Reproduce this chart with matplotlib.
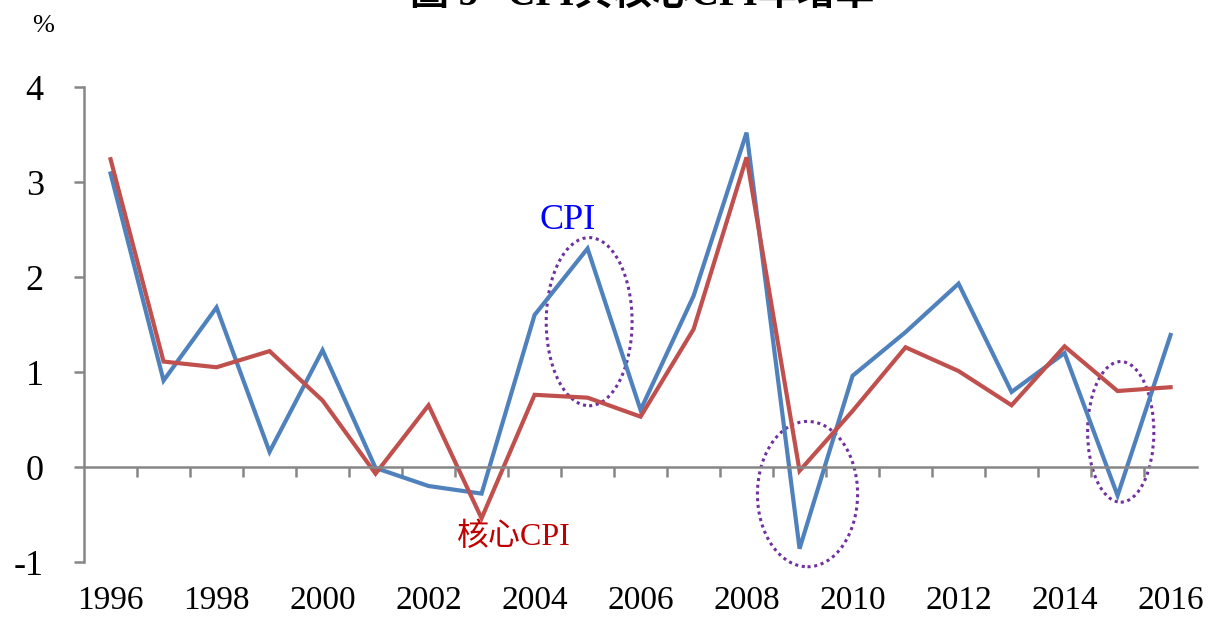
import numpy as np
import matplotlib
matplotlib.use('Agg')
import matplotlib.pyplot as plt
from matplotlib.patches import Ellipse

plt.rcParams['font.family'] = ['Liberation Serif', 'Noto Sans CJK TC']

years = list(range(1996, 2017))
cpi = [3.09, 0.91, 1.68, 0.16, 1.23, -0.01, -0.20, -0.28, 1.60, 2.30, 0.60,
       1.80, 3.52, -0.86, 0.96, 1.42, 1.93, 0.79, 1.20, -0.30, 1.39]
core_cpi = [3.24, 1.11, 1.05, 1.22, 0.70, -0.07, 0.65, -0.54, 0.76, 0.73, 0.53,
            1.45, 3.26, -0.04, 0.59, 1.26, 1.01, 0.65, 1.27, 0.80, 0.84]
# highlighted regions: (year, centre value, width in years, height)
circles = [(2005.03, 1.53, 1.62, 1.77),
           (2009.15, -0.285, 1.89, 1.53),
           (2015.06, 0.37, 1.25, 1.48)]

BLUE = '#4F81BD'
RED = '#C0504D'
GREY = '#868686'

fig = plt.figure(figsize=(12.2, 6.18), dpi=100)
ax = fig.add_axes([0.0689, 0.0906, 0.9123, 0.7686])

x = np.arange(len(years))
ax.plot(x, cpi, color=BLUE, lw=3, solid_joinstyle='miter')
ax.plot(x, core_cpi, color=RED, lw=3, solid_joinstyle='miter')

for yr, yc, w, h in circles:
    ax.add_patch(Ellipse((yr - years[0], yc), w, h, fill=False, clip_on=False,
                         edgecolor='#7030A0', lw=2.2, ls=(0, (1, 1.2))))

ax.text(8.63, 2.51, 'CPI', color='#0000FF', fontsize=26, ha='center')
ax.text(7.6, -0.82, '核心CPI', color='#C00000', fontsize=23, ha='center')

ax.set_xlim(-0.5, len(years) - 0.5)
ax.set_ylim(-1, 4)
ax.set_yticks(range(-1, 5))
ax.set_yticklabels([str(v) for v in range(-1, 5)])
ax.set_xticks(x[::2])
ax.set_xticklabels([str(y) for y in years[::2]], family='Liberation Serif')
ax.set_xticks(np.arange(0.5, len(years) - 0.5, 1), minor=True)

for s in ['top', 'right']:
    ax.spines[s].set_visible(False)
ax.spines['bottom'].set_position(('data', 0))
ax.spines['bottom'].set_color(GREY)
ax.spines['left'].set_color(GREY)
ax.spines['bottom'].set_linewidth(1.8)
ax.spines['left'].set_linewidth(1.8)

ax.tick_params(axis='x', which='major', length=0, pad=85, labelsize=24)
ax.tick_params(axis='x', which='minor', length=7, width=1.8, color=GREY,
               direction='out')
ax.tick_params(axis='y', length=7, width=1.8, color=GREY, pad=22, labelsize=26)

fig.text(0.035, 0.958, '%', fontsize=19, ha='center', va='center')
fig.text(0.526, 1.006, '圖 5   CPI與核心CPI年增率', fontsize=28, fontweight='bold',
         ha='center', va='center')

fig.savefig('out.png', dpi=100)
